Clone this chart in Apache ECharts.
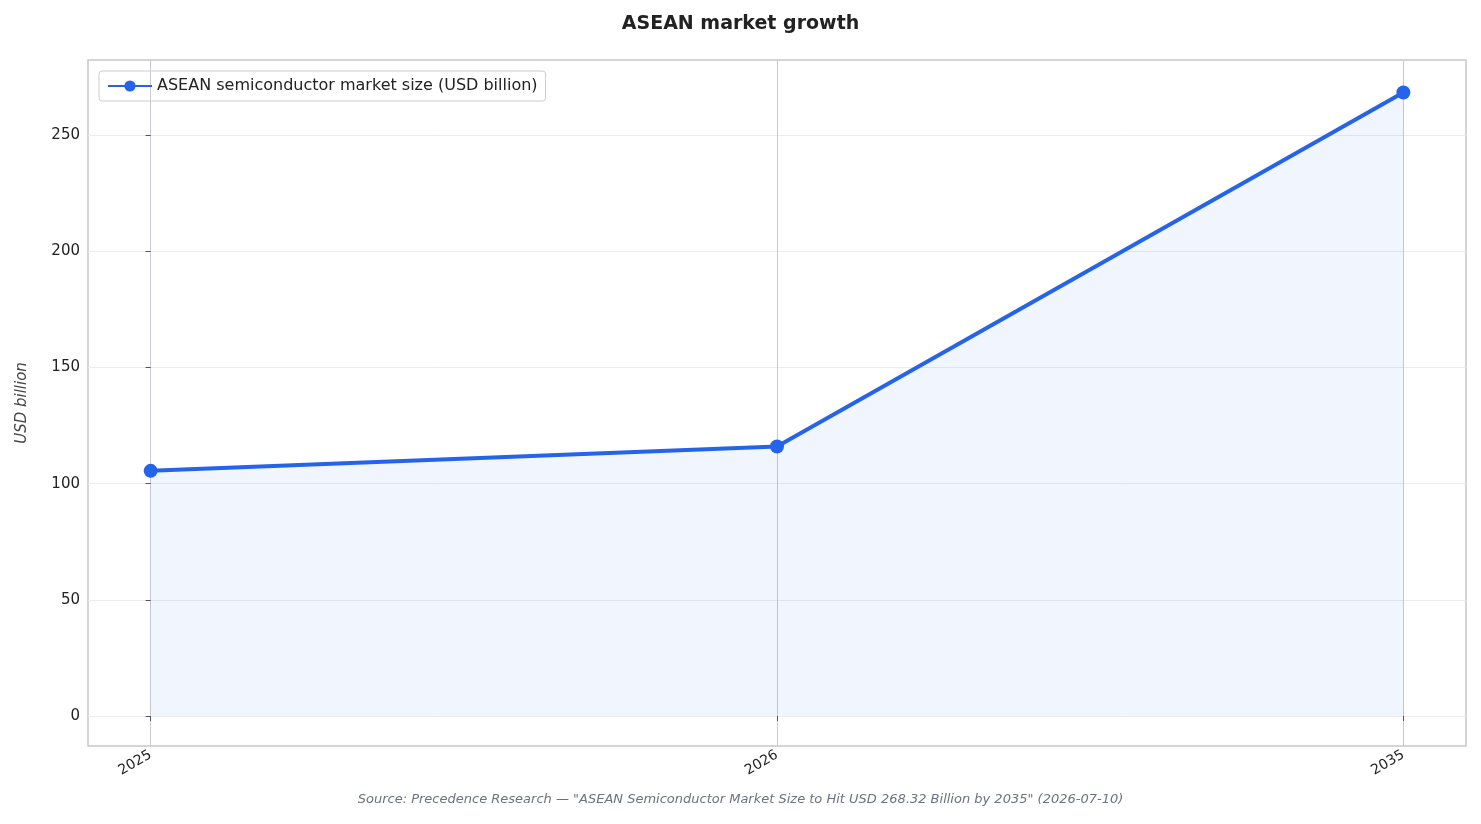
<!DOCTYPE html>
<html><head><meta charset="utf-8">
<script src="https://cdn.jsdelivr.net/npm/echarts@6/dist/echarts.min.js"></script>
<style>html,body{margin:0;padding:0;background:#fff}#c{width:1481px;height:824px}</style>
</head><body><div id="c"></div>
<script>
const categories = ['2025', '2026', '2035'];
const marketSize = [105.5, 116, 268.32];
const yTicks = [0, 50, 100, 150, 200, 250];

const font = 'DejaVu Sans';
const chart = echarts.init(document.getElementById('c'));
const pts = marketSize.map((v, i) => [i, v]);
chart.setOption({
  animation: false,
  textStyle: { fontFamily: font },
  title: { text: 'ASEAN market growth', left: 'center', top: 10,
    textStyle: { fontFamily: font, fontSize: 19, fontWeight: 'bold', color: '#222' } },
  graphic: [{ type: 'text', left: 'center', top: 793,
    style: { text: 'Source: Precedence Research — "ASEAN Semiconductor Market Size to Hit USD 268.32 Billion by 2035" (2026-07-10)',
      font: 'italic 13px "DejaVu Sans"', fill: '#6b7280' } }],
  legend: { left: 99, top: 71, itemWidth: 44, itemHeight: 14, borderColor: '#ccc', borderWidth: 1, borderRadius: 3,
    padding: [7, 8], textStyle: { fontFamily: font, fontSize: 16, color: '#222' } },
  grid: { left: 88, right: 15, top: 60, bottom: 78, show: true, borderColor: '#c8c8c8', borderWidth: 1.5 },
  xAxis: { type: 'value', min: -0.1, max: 2.1,
    axisLine: { show: false }, splitLine: { show: false },
    axisTick: { show: true, customValues: [0, 1, 2], length: 5, lineStyle: { color: '#555' } },
    axisLabel: { customValues: [0, 1, 2], rotate: 30, fontSize: 14, color: '#222', fontFamily: font,
      formatter: v => categories[Math.round(v)] } },
  yAxis: { type: 'value', min: -12.9, max: 282.3,
    name: 'USD billion', nameLocation: 'middle', nameGap: 58, nameRotate: 90,
    nameTextStyle: { fontStyle: 'italic', fontSize: 15, color: '#444', fontFamily: font },
    axisLine: { show: false }, splitLine: { show: false },
    axisTick: { show: true, customValues: yTicks, length: 5, lineStyle: { color: '#555' } },
    axisLabel: { customValues: yTicks, fontSize: 15, color: '#222', fontFamily: font } },
  series: [{
    name: 'ASEAN semiconductor market size (USD billion)', type: 'line', data: pts,
    symbol: 'circle', symbolSize: 14, itemStyle: { color: '#2563eb' },
    lineStyle: { width: 4, color: '#2563eb' },
    areaStyle: { color: 'rgba(37,99,235,0.09)', origin: 0 },
    markLine: { silent: true, symbol: 'none', label: { show: false }, z: 0,
      data: yTicks.map(v => ({ yAxis: v, lineStyle: { color: '#ececec', width: 1, type: 'solid' } }))
        .concat([0, 1, 2].map(v => ({ xAxis: v, lineStyle: { color: '#c9c9cf', width: 1, type: 'solid' } }))) }
  }]
});
</script></body></html>
